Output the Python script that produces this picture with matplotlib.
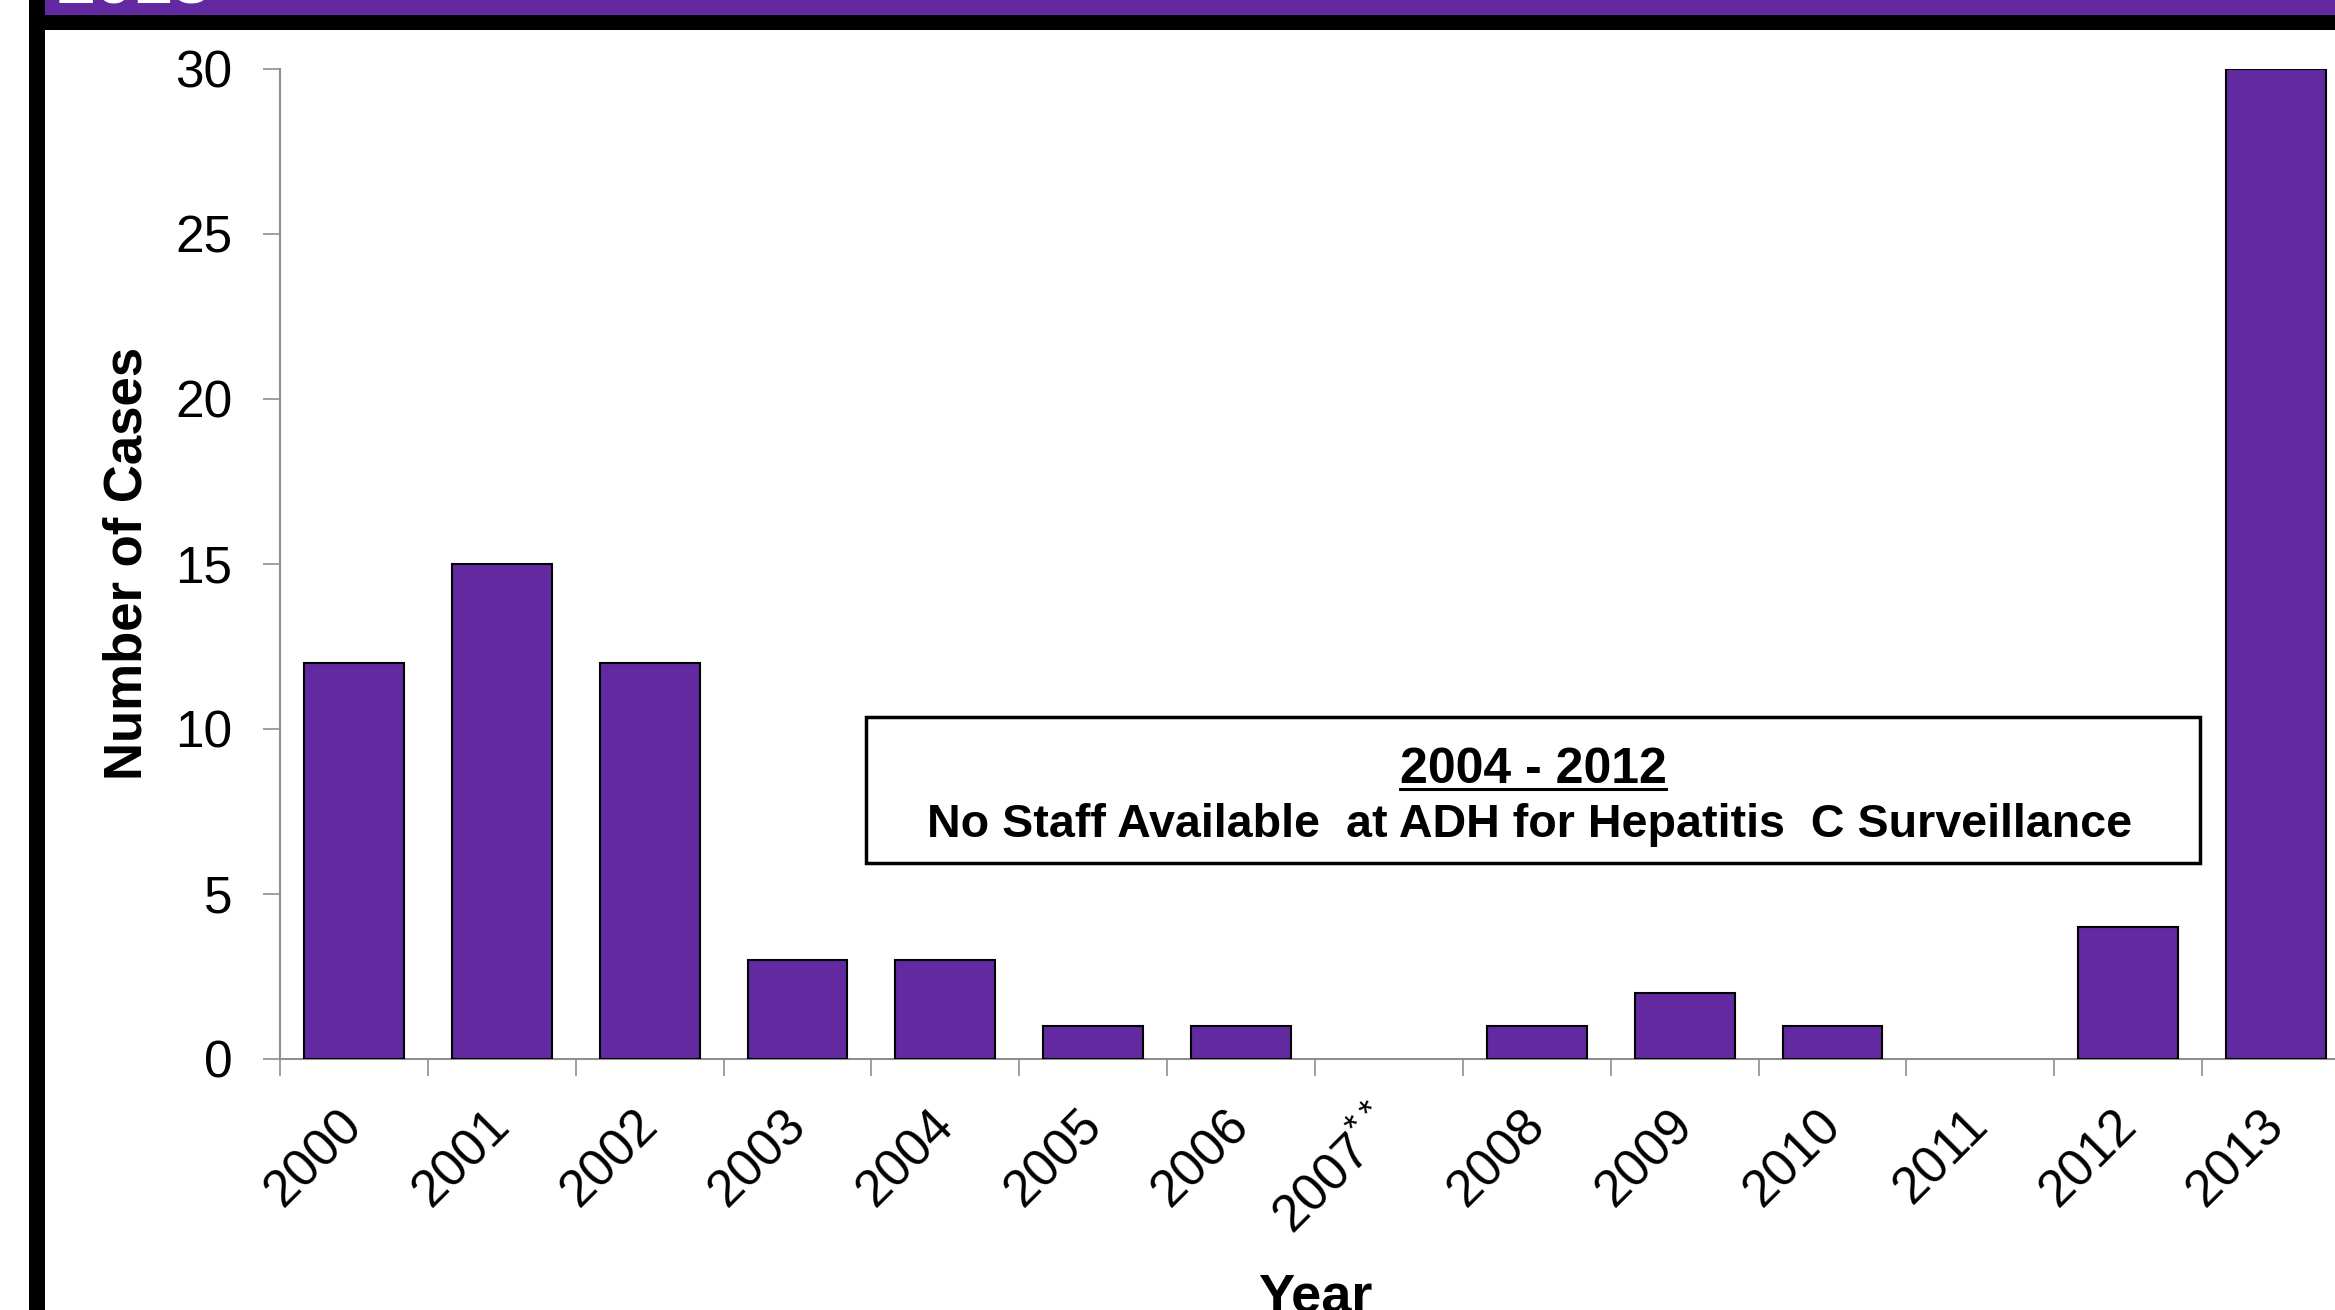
import matplotlib
matplotlib.use('Agg')
import matplotlib.pyplot as plt
from matplotlib.patches import Rectangle
from matplotlib.lines import Line2D
from matplotlib.transforms import ScaledTranslation
import numpy as np

plt.rcParams['font.family'] = ['Liberation Sans', 'DejaVu Sans']
plt.rcParams['mathtext.fontset'] = 'custom'
plt.rcParams['mathtext.rm'] = 'Liberation Sans'

# Datos
years = ['2000', '2001', '2002', '2003', '2004', '2005', '2006', '2007$^{**}$',
         '2008', '2009', '2010', '2011', '2012', '2013']
cases = [12, 15, 12, 3, 3, 1, 1, 0, 1, 2, 1, 0, 4, 30]
y_ticks = [0, 5, 10, 15, 20, 25, 30]
note_title = '2004 - 2012'
note_text = 'No Staff Available  at ADH for Hepatitis  C Surveillance'

purple = '#6329a0'
axis_gray = '#8f8f8f'

W, H = 2335, 1310
fig = plt.figure(figsize=(W / 100, H / 100), dpi=100)
fig.patch.set_facecolor('white')

def fx(px):
    return px / W

def fy(py):
    return 1 - py / H

# Marco de la diapositiva
fig.add_artist(Rectangle((fx(29), 0), fx(16), 1, transform=fig.transFigure,
                         facecolor='black', edgecolor='none', zorder=5))
fig.add_artist(Rectangle((fx(45), fy(14.5)), 1, 14.5 / H, transform=fig.transFigure,
                         facecolor=purple, edgecolor='none', zorder=5))
fig.add_artist(Rectangle((fx(45), fy(30)), 1, 15.5 / H, transform=fig.transFigure,
                         facecolor='black', edgecolor='none', zorder=5))
fig.text(fx(57), fy(3), '2013', color='white', fontsize=50, fontweight='bold',
         ha='left', va='baseline', zorder=6)

# Ejes
ax = fig.add_axes([fx(280), fy(1059), fx(2350) - fx(280), fy(68.5) - fy(1059)])
x = np.arange(len(years))
# las barras con valor 0 no llevan borde
edge_w = [1.5 if c > 0 else 0 for c in cases]
ax.bar(x, cases, width=0.675, color=purple, edgecolor='black', linewidth=edge_w, zorder=3)
ax.set_xlim(-0.5, len(years) - 0.5)
ax.set_ylim(0, 30)
ax.set_yticks(y_ticks)
ax.tick_params(axis='y', length=12.2, width=1.2, color=axis_gray, pad=22, labelsize=37)

ax.set_xticks(x)
ax.set_xticklabels(years, rotation=45, ha='right', va='top', fontsize=37)
ax.set_xticks(np.arange(len(years) + 1) - 0.5, minor=True)
ax.tick_params(axis='x', which='major', length=0, pad=30)
ax.tick_params(axis='x', which='minor', length=12.2, width=1.2, color=axis_gray)
offset = ScaledTranslation(18 / 100, 0, fig.dpi_scale_trans)
for lbl in ax.get_xticklabels():
    lbl.set_transform(lbl.get_transform() + offset)

for side in ['top', 'right']:
    ax.spines[side].set_visible(False)
for side in ['left', 'bottom']:
    ax.spines[side].set_color(axis_gray)
    ax.spines[side].set_linewidth(1.5)

ax.set_ylabel('Number of Cases', fontsize=38, fontweight='bold', va='center')
ax.yaxis.set_label_coords(fx(127), (fy(1059) + fy(68.5)) / 2, transform=fig.transFigure)
fig.text(fx(1315), fy(1272), 'Year', fontsize=39, fontweight='bold',
         ha='center', va='top')

# Recuadro de la nota
fig.add_artist(Rectangle((fx(866), fy(863)), fx(2200) - fx(866), (863 - 717) / H,
                         transform=fig.transFigure, facecolor='white',
                         edgecolor='black', linewidth=2.5, zorder=4))
t1 = fig.text(fx(1533), fy(783), note_title, fontsize=36, fontweight='bold',
              ha='center', va='baseline', zorder=6)
fig.text(fx(1530), fy(837), note_text, fontsize=33.6, fontweight='bold',
         ha='center', va='baseline', zorder=6)

fig.canvas.draw()
bb = t1.get_window_extent()
fig.add_artist(Line2D([bb.x0 / W, bb.x1 / W], [fy(789), fy(789)],
                      transform=fig.transFigure, color='black', linewidth=2.2, zorder=6))

fig.savefig('out.png', dpi=100)
